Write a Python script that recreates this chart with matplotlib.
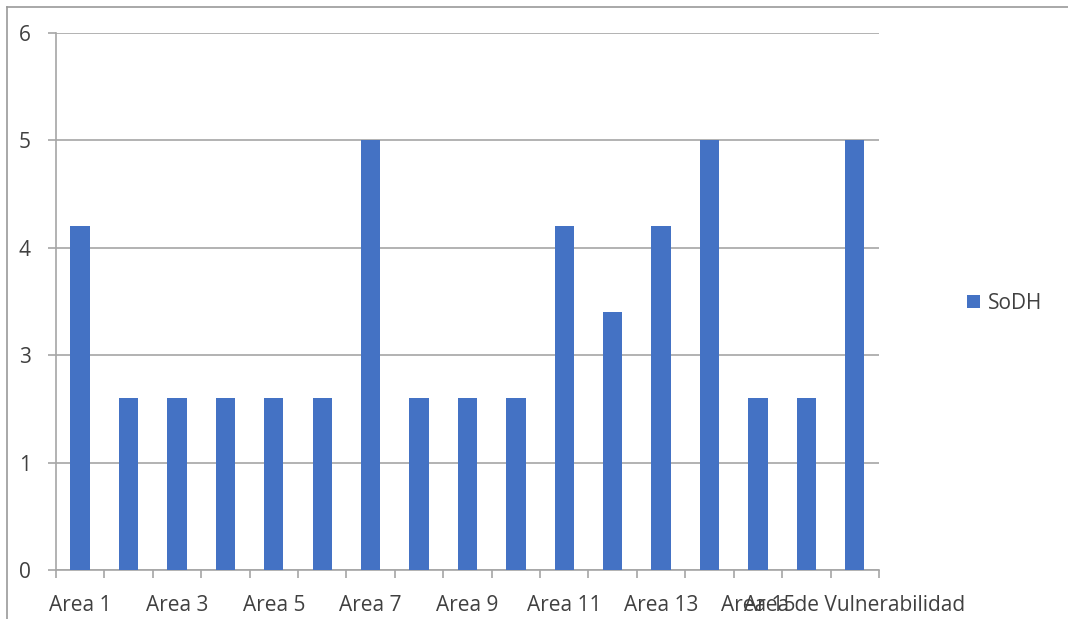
import matplotlib
matplotlib.use("Agg")
import matplotlib.pyplot as plt
from matplotlib.lines import Line2D
from matplotlib.patches import Patch
import numpy as np

plt.rcParams['font.family'] = ['Open Sans', 'DejaVu Sans']

categories = ['Area 1', 'Area 2', 'Area 3', 'Area 4', 'Area 5', 'Area 6',
              'Area 7', 'Area 8', 'Area 9', 'Area 10', 'Area 11', 'Area 12',
              'Area 13', 'Area 14', 'Area 15', 'Area 16',
              'Area de Vulnerabilidad']
sodh = [4.2, 2.6, 2.6, 2.6, 2.6, 2.6, 5.0, 2.6, 2.6, 2.6,
        4.2, 3.4, 4.2, 5.0, 2.6, 2.6, 5.0]
y_ticks = [1, 2, 3, 4, 5, 6]
y_tick_labels = ['0', '1', '3', '4', '5', '6']

BAR = '#4472C4'
GRID = '#a6a6a6'
TEXT = '#404040'

fig = plt.figure(figsize=(10.68, 6.19), dpi=100)
ax = fig.add_axes([0.0524, 0.0792, 0.7706, 0.8675])

x = np.arange(len(categories))
ax.bar(x, sodh, width=0.4, color=BAR, zorder=3)

ax.set_xlim(-0.5, len(categories) - 0.5)
ax.set_ylim(1, 6)
ax.set_yticks(y_ticks)
ax.set_yticklabels(y_tick_labels)
ax.yaxis.grid(True, color=GRID, lw=1.2, zorder=0)

# Excel-style category axis: labels on every other category,
# tick marks between categories
ax.set_xticks(x[::2])
ax.set_xticklabels(categories[::2])
ax.set_xticks(np.arange(-0.5, len(categories)), minor=True)
ax.tick_params(axis='x', which='major', length=0, pad=18,
               labelsize=15, labelcolor=TEXT)
ax.tick_params(axis='x', which='minor', length=6, width=1.2,
               color=GRID, direction='out')
ax.tick_params(axis='y', length=6, width=1.2, color=GRID, pad=12,
               labelsize=15, labelcolor=TEXT)

for s in ('top', 'right'):
    ax.spines[s].set_visible(False)
for s in ('left', 'bottom'):
    ax.spines[s].set_color(GRID)
    ax.spines[s].set_linewidth(1.2)

fig.legend(handles=[Patch(facecolor=BAR, label='SoDH')],
           loc='center left', bbox_to_anchor=(0.888, 0.51),
           frameon=False, handlelength=0.6, handleheight=0.6,
           handletextpad=0.4, fontsize=15, labelcolor=TEXT)

# chart area border
fig.add_artist(Line2D([0.0066, 0.0066], [0.0, 0.9887], color='#9a9a9a', lw=1.2))
fig.add_artist(Line2D([0.0066, 1.0], [0.9887, 0.9887], color='#9a9a9a', lw=1.2))

fig.savefig('out.png', dpi=100)
